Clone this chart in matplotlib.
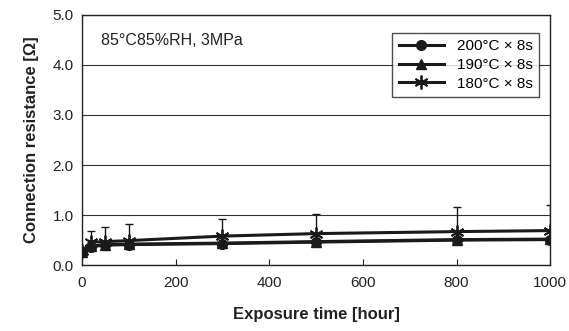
import numpy as np
import matplotlib
matplotlib.use('Agg')
import matplotlib.pyplot as plt

plt.rcParams['font.family'] = ['Liberation Sans', 'DejaVu Sans']

# exposure time [hour]
hours = [0, 20, 50, 100, 300, 500, 800, 1000]

# connection resistance [ohm]
r_200 = [0.27, 0.37, 0.40, 0.41, 0.43, 0.46, 0.50, 0.51]
r_190 = [0.27, 0.38, 0.41, 0.42, 0.44, 0.47, 0.51, 0.52]
r_180 = [0.28, 0.46, 0.47, 0.49, 0.58, 0.63, 0.67, 0.69]
err_180 = [0.0, 0.23, 0.30, 0.34, 0.35, 0.40, 0.50, 0.52]

labels = ['200°C × 8s', '190°C × 8s', '180°C × 8s']

fig = plt.figure(figsize=(5.69, 3.31), dpi=100)
ax = fig.add_axes([0.144, 0.199, 0.823, 0.756])

# upper error bars only
ax.errorbar(hours, r_180, yerr=[np.zeros(len(err_180)), err_180], fmt='none',
            ecolor='#1a1a1a', capsize=3, elinewidth=1, zorder=2)
ax.plot(hours, r_180, color='#1a1a1a', lw=2.2, marker=(6, 2, 0), ms=10, mew=1.3,
        label=labels[2], zorder=3)
ax.plot(hours, r_190, color='#1a1a1a', lw=2.2, marker='^', ms=7, label=labels[1], zorder=4)
ax.plot(hours, r_200, color='#1a1a1a', lw=2.2, marker='o', ms=7, label=labels[0], zorder=5)

ax.set_xlim(0, 1000)
ax.set_ylim(0, 5)
ax.set_xticks([0, 200, 400, 600, 800, 1000])
ax.set_yticks(np.arange(0, 5.1, 1.0))
ax.set_yticklabels([f'{v:.1f}' for v in np.arange(0, 5.1, 1.0)])
ax.grid(axis='y', color='#333333', lw=0.8)
ax.set_axisbelow(True)
ax.tick_params(labelsize=11, color='#222222', labelcolor='#222222', length=4)
ax.tick_params(axis='x', direction='in', pad=8)
ax.tick_params(axis='y', length=0, pad=6)
for s in ax.spines.values():
    s.set_color('#222222')
    s.set_linewidth(1.0)

ax.set_xlabel('Exposure time [hour]', fontsize=12, fontweight='bold', labelpad=12, color='#222222')
ax.set_ylabel('Connection resistance [Ω]', fontsize=12, fontweight='bold', labelpad=10, color='#222222')

ax.text(0.04, 0.88, '85°C85%RH, 3MPa', transform=ax.transAxes, fontsize=11.5, color='#222222')

h, l = ax.get_legend_handles_labels()
order = [l.index(x) for x in labels]
leg = ax.legend([h[i] for i in order], [l[i] for i in order], loc='upper right',
                bbox_to_anchor=(0.993, 0.96), fontsize=11, frameon=True, fancybox=False,
                edgecolor='#222222', handlelength=3, labelspacing=0.3, borderpad=0.45)
leg.get_frame().set_linewidth(1.0)

fig.savefig('out.png', dpi=100)
